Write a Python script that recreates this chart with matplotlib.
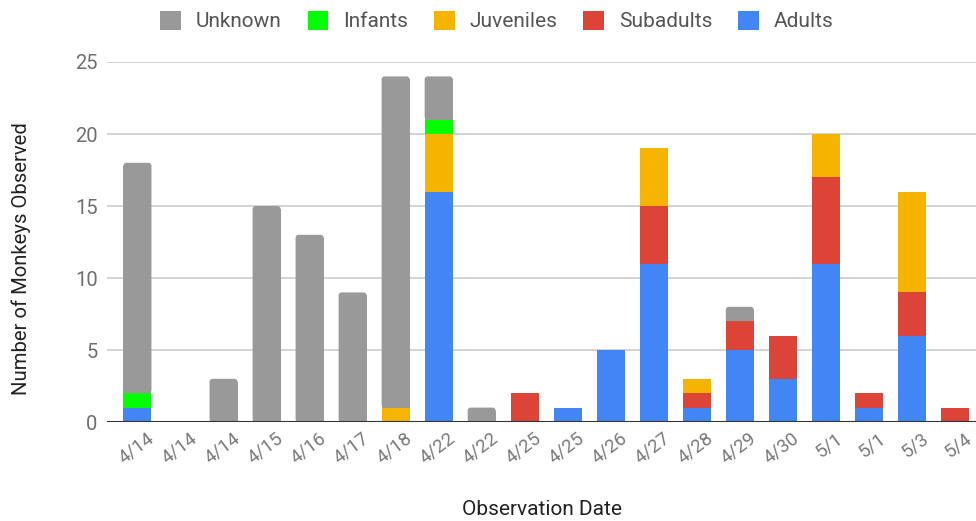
import matplotlib
matplotlib.use("Agg")
import matplotlib.pyplot as plt
import matplotlib.transforms as mtransforms
import numpy as np
from matplotlib.patches import Patch, FancyBboxPatch

dates = ["4/14", "4/14", "4/14", "4/15", "4/16", "4/17", "4/18", "4/22", "4/22", "4/25",
         "4/25", "4/26", "4/27", "4/28", "4/29", "4/30", "5/1", "5/1", "5/3", "5/4"]
adults    = [1, 0, 0, 0, 0, 0, 0, 16, 0, 0, 1, 5, 11, 1, 5, 3, 11, 1, 6, 0]
subadults = [0, 0, 0, 0, 0, 0, 0, 0, 0, 2, 0, 0, 4, 1, 2, 3, 6, 1, 3, 1]
juveniles = [0, 0, 0, 0, 0, 0, 1, 4, 0, 0, 0, 0, 4, 1, 0, 0, 3, 0, 7, 0]
infants   = [1, 0, 0, 0, 0, 0, 0, 1, 0, 0, 0, 0, 0, 0, 0, 0, 0, 0, 0, 0]
unknown   = [16, 0, 3, 15, 13, 9, 23, 3, 1, 0, 0, 0, 0, 0, 1, 0, 0, 0, 0, 0]

series = [("Adults", adults, "#4285f4"),
          ("Subadults", subadults, "#db4437"),
          ("Juveniles", juveniles, "#f4b400"),
          ("Infants", infants, "#00ff00"),
          ("Unknown", unknown, "#999999")]

plt.rcParams["font.family"] = ["Roboto", "DejaVu Sans"]

fig = plt.figure(figsize=(9.76, 5.21), dpi=100)
ax = fig.add_axes([0.11, 0.19, 0.89, 0.691])

x = np.arange(len(dates))
ax.set_xlim(-0.7, 19.49)
ax.set_ylim(0, 25)

# pixel size of one data unit, used to keep the top corner rounding circular
fig.canvas.draw()
p0 = ax.transData.transform((0, 0))
p1 = ax.transData.transform((1, 1))
px_x, px_y = p1 - p0
radius_px = 3.0
rx = radius_px / px_x
ry = radius_px / px_y

bottom = np.zeros(len(dates))
handles = {}
for name, vals, color in series:
    vals = np.array(vals, dtype=float)
    bars = ax.bar(x, vals, bottom=bottom, width=0.65, color=color, linewidth=0, zorder=3)
    handles[name] = Patch(facecolor=color, edgecolor="none")
    if name == "Unknown":
        # topmost segment gets softly rounded top corners
        for rect in bars:
            h = rect.get_height()
            if h <= 0:
                continue
            rx0, ry0, w = rect.get_x(), rect.get_y(), rect.get_width()
            rect.set_height(max(h - ry, 0))
            ax.add_patch(FancyBboxPatch((rx0, ry0), w, h,
                                        boxstyle=f"round,pad=0,rounding_size={rx}",
                                        mutation_aspect=ry / rx,
                                        facecolor=color, edgecolor="none",
                                        linewidth=0, zorder=3))
    bottom += vals

ax.set_yticks([0, 5, 10, 15, 20, 25])
ax.yaxis.grid(True, color="#cccccc", linewidth=1.2, zorder=0)
ax.axhline(0, color="#333333", linewidth=1.5, zorder=4)
for s in ax.spines.values():
    s.set_visible(False)
ax.tick_params(axis="y", length=0, labelsize=14.5, labelcolor="#6f6f6f", pad=7)
ax.tick_params(axis="x", length=0, labelsize=13.5, labelcolor="#7a7a7a", pad=5)
ax.set_xticks(x)
ax.set_xticklabels(dates, rotation=37, ha="right", rotation_mode="anchor")
shift = mtransforms.ScaledTranslation(9 / 100, 0, fig.dpi_scale_trans)
for lab in ax.get_xticklabels():
    lab.set_transform(lab.get_transform() + shift)

ax.set_ylabel("Number of Monkeys Observed", fontsize=14.6, color="#222222")
ax.yaxis.set_label_coords(-0.088, 0.454)
ax.set_xlabel("Observation Date", fontsize=15, color="#222222", labelpad=24)

order = ["Unknown", "Infants", "Juveniles", "Subadults", "Adults"]
fig.legend([handles[n] for n in order], order, loc="upper center",
           bbox_to_anchor=(0.509, 1.015), ncol=5, frameon=False, fontsize=15,
           labelcolor="#555555", handlelength=1.0, handleheight=1.0,
           handletextpad=0.7, columnspacing=1.25)

fig.savefig("out.png", dpi=100)
